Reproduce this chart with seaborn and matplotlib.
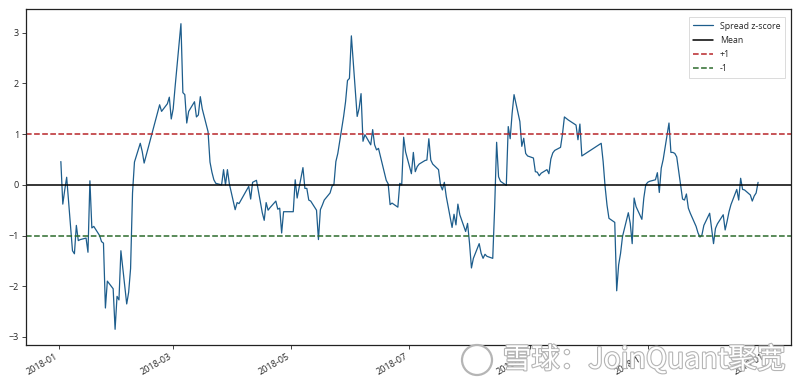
import numpy as np
import pandas as pd
import matplotlib
matplotlib.use("Agg")
import matplotlib.pyplot as plt
import matplotlib.dates as mdates
import matplotlib.patheffects as pe
from matplotlib.patches import Ellipse
import seaborn as sns

# ---------------- data ----------------
holidays = ['2018-01-01', '2018-02-15', '2018-02-16', '2018-02-19', '2018-02-20',
            '2018-02-21', '2018-04-05', '2018-04-06', '2018-04-30', '2018-05-01',
            '2018-06-18', '2018-09-24', '2018-10-01', '2018-10-02', '2018-10-03',
            '2018-10-04', '2018-10-05', '2018-12-31']

jan = [0.46, -0.38, -0.1, 0.15, -1.3, -1.36, -0.8, -1.1, -1.08, -1.05, -1.33, 0.08,
       -0.85, -0.82, -1.0, -1.12, -1.15, -2.43, -1.9, -2.05, -2.85, -2.2]
feb = [-2.27, -1.3, -2.35, -2.12, -1.65, -0.16, 0.45, 0.82, 0.66, 0.43, 1.58, 1.45,
       1.6, 1.73, 1.3]
mar = [1.5, 1.94, 3.18, 1.82, 1.78, 1.22, 1.45, 1.64, 1.34, 1.38, 1.74, 1.5, 1.05,
       0.45, 0.25, 0.1, 0.03, 0.0, 0.3, 0.0, 0.3, 0.02]
apr = [-0.49, -0.35, -0.37, -0.03, -0.28, 0.05, 0.07, 0.09, -0.55, -0.7, -0.35,
       -0.5, -0.45, -0.32, -0.48, -0.46, -0.95, -0.53]
may = [-0.53, 0.1, -0.26, 0.34, -0.07, -0.07, -0.3, -0.32, -0.5, -1.08, -0.49, -0.4,
       -0.3, -0.16, -0.03, 0.01, 0.46, 0.62, 1.35, 1.64, 2.06, 2.1]
jun = [2.94, 1.35, 1.51, 1.8, 0.86, 0.99, 0.79, 1.09, 0.79, 0.69, 0.72, 0.09, 0.02,
       -0.39, -0.36, -0.44, 0.03, 0.0, 0.94, 0.65]
jul = [0.22, 0.64, 0.26, 0.36, 0.41, 0.48, 0.49, 0.91, 0.49, 0.41, 0.3, 0.0, -0.1,
       0.05, -0.23, -0.84, -0.58, -0.79, -0.38, -0.59, -0.92, -0.76]
aug = [-1.15, -1.64, -1.45, -1.16, -1.35, -1.45, -1.37, -1.41, -1.45, -0.43, 0.84,
       0.16, 0.07, -0.01, 1.15, 0.91, 1.41, 1.78, 1.25, 0.76, 0.92, 0.62, 0.57]
sep = [0.53, 0.26, 0.25, 0.18, 0.23, 0.3, 0.22, 0.51, 0.63, 0.68, 0.74, 1.0, 1.34,
       1.31, 1.28, 1.18, 0.89, 1.2, 0.57]
oct_ = [0.82, 0.46, -0.03, -0.4, -0.66, -0.74, -2.09, -1.58, -1.35, -1.02, -0.55,
        -0.76, -1.16, -0.26, -0.43, -0.68, -0.26, 0.0]
nov = [0.05, 0.07, 0.1, 0.24, -0.15, 0.33, 0.5, 1.22, 0.64, 0.64, 0.62, 0.55, -0.28,
       -0.3, -0.18, -0.46, -0.56, -0.82, -0.95, -1.03, -0.99, -0.8]
dec = [-0.56, -0.86, -1.16, -0.86, -0.77, -0.59, -0.89, -0.72, -0.53, -0.39, -0.09,
       -0.3, 0.13, -0.09, -0.1, -0.2, -0.32, -0.22, -0.16, 0.05]

level_names = ['Mean', '+1', '-1']
level_values = [0.0, 1.0, -1.0]
yticks = [-3, -2, -1, 0, 1, 2, 3]

# ---------------- build frame ----------------
dates = pd.bdate_range('2018-01-01', '2018-12-31').difference(pd.DatetimeIndex(holidays))
zscore = jan + feb + mar + apr + may + jun + jul + aug + sep + oct_ + nov + dec
df = pd.DataFrame({'date': dates, 'z': zscore})

# ---------------- style ----------------
sns.set_style('ticks')
plt.rcParams['font.family'] = ['Open Sans', 'DejaVu Sans']
plt.rcParams['axes.unicode_minus'] = True

fig = plt.figure(figsize=(8.0, 3.81), dpi=100)
ax = fig.add_axes([26 / 800, 1 - 345 / 381, (791 - 26) / 800, (345 - 9) / 381])

sns.lineplot(data=df, x='date', y='z', ax=ax, color='#1d5d8c', linewidth=0.9,
             label='Spread z-score')
level_styles = [dict(color='black', linestyle='-', linewidth=1.1),
                dict(color='#b8262a', linestyle='--', linewidth=1.1),
                dict(color='#2c6b2c', linestyle='--', linewidth=1.1)]
for name, val, st in zip(level_names, level_values, level_styles):
    ax.axhline(val, label=name, **st)

ax.set_xlim(pd.Timestamp('2017-12-15'), pd.Timestamp('2019-01-14'))
ax.set_ylim(-3.16, 3.47)
ax.set_yticks(yticks)
ax.xaxis.set_major_locator(mdates.MonthLocator(bymonth=[1, 3, 5, 7, 9, 11]))
ax.xaxis.set_major_formatter(mdates.DateFormatter('%Y-%m'))
ax.set_xlabel('')
ax.set_ylabel('')
ax.tick_params(axis='both', labelsize=6.5, length=3, width=0.6, pad=2)
for lbl in ax.get_xticklabels():
    lbl.set_rotation(30)
    lbl.set_ha('right')
for sp in ax.spines.values():
    sp.set_linewidth(0.9)
    sp.set_color('#222222')

leg = ax.legend(loc='upper right', fontsize=6.3, frameon=True, handlelength=2.2,
                borderpad=0.55, labelspacing=0.6, fancybox=False,
                bbox_to_anchor=(0.998, 0.99))
leg.get_frame().set_edgecolor('#cccccc')
leg.get_frame().set_linewidth(0.6)

# watermark
fig.text(0.982, 0.055, '雪球：JoinQuant聚宽', ha='right', va='center',
         fontsize=20.5, color='white', family=['Noto Sans CJK SC', 'DejaVu Sans'],
         path_effects=[pe.withStroke(linewidth=1.6, foreground='#b5b5b5')], zorder=10)
fig.patches.append(Ellipse((477 / 800, 1 - 360 / 381), 30 / 800, 30 / 381,
                           transform=fig.transFigure, facecolor='white',
                           edgecolor='#b5b5b5', linewidth=1.6, zorder=10))

fig.savefig('out.png', dpi=100)
